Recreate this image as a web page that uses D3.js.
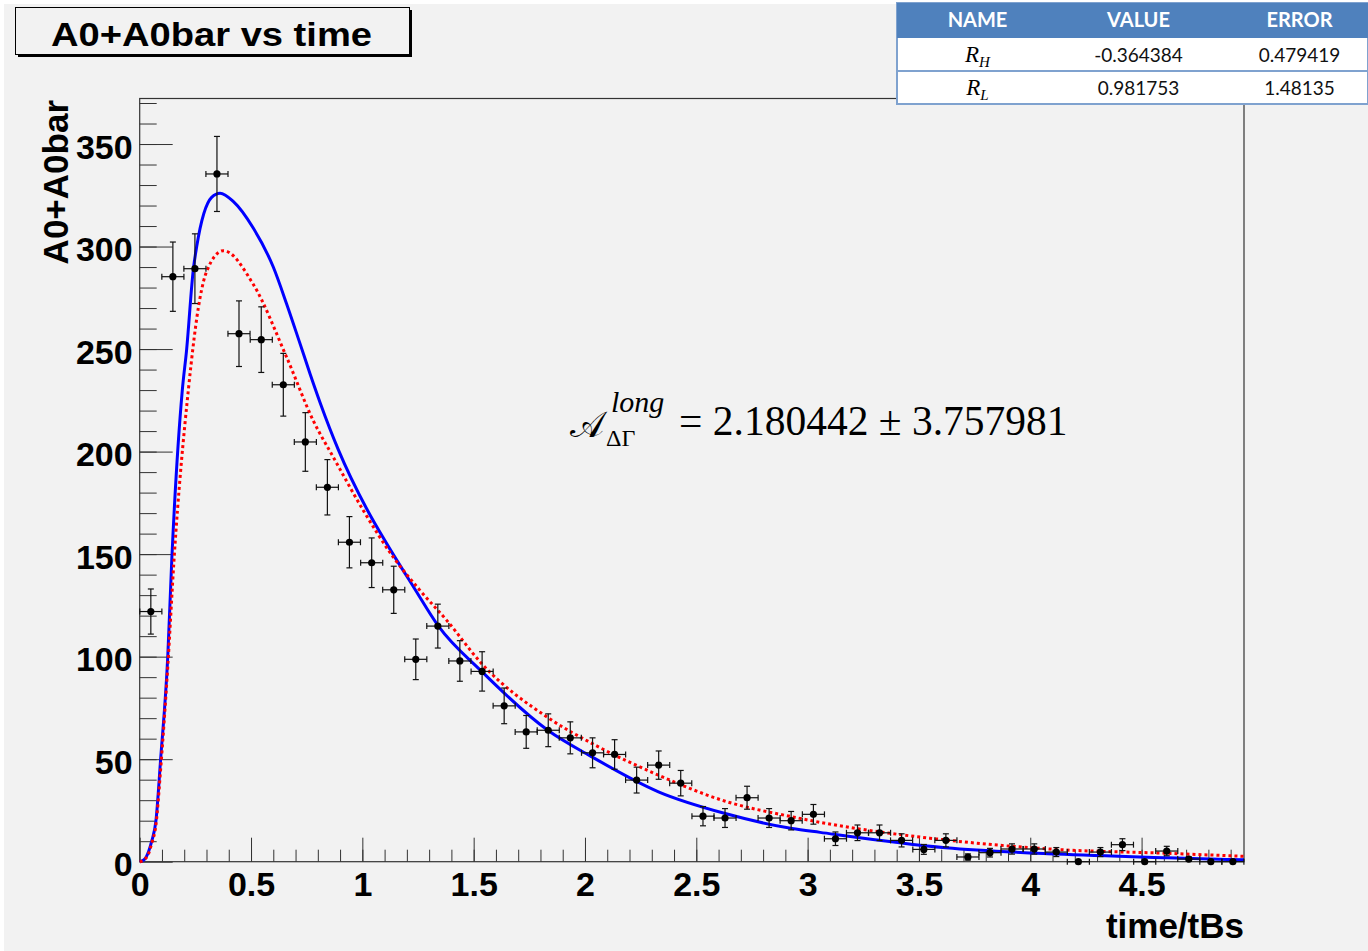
<!DOCTYPE html>
<html>
<head>
<meta charset="utf-8">
<script src="https://cdn.jsdelivr.net/npm/d3@7"></script>
<style>
  body { margin: 0; background: #fff; }
  text { font-family: "Liberation Sans", Arial, sans-serif; }
</style>
</head>
<body>
<svg id="chart" width="1368" height="951"></svg>
<script>
// histogram bins (bin centres, contents, errors)
const times = [0.050, 0.149, 0.248, 0.347, 0.446, 0.546, 0.645, 0.744, 0.843, 0.942,
  1.042, 1.141, 1.240, 1.339, 1.438, 1.538, 1.637, 1.736, 1.835, 1.934,
  2.034, 2.133, 2.232, 2.331, 2.430, 2.530, 2.629, 2.728, 2.827, 2.926,
  3.026, 3.125, 3.224, 3.323, 3.422, 3.522, 3.621, 3.720, 3.819, 3.918,
  4.018, 4.117, 4.216, 4.315, 4.414, 4.514, 4.613, 4.712, 4.811, 4.910];
const counts = [122, 285.3, 289.2, 335.4, 257.5, 254.6, 232.6, 204.7, 182.6, 155.8,
  145.8, 132.6, 98.7, 114.9, 97.9, 92.8, 76.0, 63.3, 64.1, 60.4,
  53.1, 52.3, 39.8, 47.1, 38.3, 22.2, 21.3, 31.2, 21.3, 20.0,
  23.1, 11.2, 14.1, 14.1, 10.4, 6.0, 10.4, 2.3, 4.4, 6.2,
  6.2, 4.7, 0, 4.7, 8.3, 0, 5.2, 1.3, 0, 0];
const errors = [11.0, 16.9, 17.0, 18.3, 16.0, 16.0, 15.3, 14.3, 13.5, 12.5,
  12.1, 11.5, 9.9, 10.7, 9.9, 9.6, 8.7, 8.0, 8.0, 7.8,
  7.3, 7.2, 6.3, 6.9, 6.2, 4.7, 4.6, 5.6, 4.6, 4.5,
  4.8, 3.3, 3.8, 3.8, 3.2, 2.4, 3.2, 1.5, 2.1, 2.5,
  2.5, 2.2, 0, 2.2, 2.9, 0, 2.3, 1.1, 0, 0];
const binHalfWidth = 0.0496;

// fit curves
const blueT = [0, 0.02, 0.04, 0.054, 0.073, 0.094, 0.126, 0.144, 0.191, 0.211, 0.241, 0.256, 0.323, 0.361,
  0.42, 0.51, 0.6, 0.66, 0.716, 0.765, 0.81, 0.892, 1.02, 1.11, 1.23, 1.341, 1.536, 1.833, 2.033, 2.33,
  2.63, 2.93, 3.056, 3.62, 4.116, 4.615, 4.96];
const blueV = [0, 1, 5, 10, 20, 50, 100, 147, 229.5, 250, 289, 300, 324, 326,
  322, 309, 290, 272, 254, 238, 224, 201, 172, 155, 134, 115, 92.8, 64.1, 51, 34.1,
  23.5, 16.2, 14.3, 6.8, 3.7, 1.9, 0.9];
const redT = [0, 0.02, 0.04, 0.054, 0.073, 0.094, 0.126, 0.154, 0.218, 0.271, 0.301, 0.376,
  0.51, 0.66, 0.78, 0.87, 1.005, 1.139, 1.259, 1.379, 1.536, 1.833, 2.033, 2.33, 2.63, 2.93, 3.056,
  3.62, 4.116, 4.615, 4.96];
const redV = [0, 1, 4, 9, 18, 45, 95, 147, 229.5, 275, 288, 298,
  281.6, 246, 215, 197.2, 171.2, 148.5, 132.3, 117.7, 96.6, 70.3, 57.6, 42.2, 29.5, 21.9, 19.2,
  10.6, 6.0, 4.1, 2.6];

const xTickVals = [0, 0.5, 1, 1.5, 2, 2.5, 3, 3.5, 4, 4.5];
const yTickVals = [0, 50, 100, 150, 200, 250, 300, 350];

const tableHead = ['NAME', 'VALUE', 'ERROR'];
const tableNames = [['R', 'H'], ['R', 'L']];
const tableValues = ['-0.364384', '0.981753'];
const tableErrors = ['0.479419', '1.48135'];

const svg = d3.select('#chart');
const W = 1368, H = 951;
const frame = { left: 139.7, right: 1244, top: 98.5, bottom: 861.7 };
const serif = '"Liberation Serif", "DejaVu Serif", serif';
const tableFont = 'Lato, "Open Sans", sans-serif';

svg.append('rect').attr('x', 4).attr('y', 4).attr('width', W - 4).attr('height', H - 4).attr('fill', '#f2f2f2');

const x = d3.scaleLinear().domain([0, 4.96]).range([frame.left, frame.right]);
const y = d3.scaleLinear().domain([0, 372.2]).range([frame.bottom, frame.top]);

// frame
svg.append('rect')
  .attr('x', frame.left).attr('y', frame.top)
  .attr('width', frame.right - frame.left).attr('height', frame.bottom - frame.top)
  .attr('fill', 'none').attr('stroke', '#333').attr('stroke-width', 1.2);

// minor ticks
const xMinor = d3.range(0.1, 4.96, 0.1);
const yMinor = d3.range(10, 372, 10);
svg.append('g')
  .attr('transform', `translate(0, ${frame.bottom})`)
  .call(d3.axisBottom(x).tickValues(xMinor).tickSize(-12).tickFormat(''))
  .call(g => g.select('.domain').remove())
  .selectAll('line').attr('stroke', '#333');
svg.append('g')
  .attr('transform', `translate(${frame.left}, 0)`)
  .call(d3.axisLeft(y).tickValues(yMinor).tickSize(-17).tickFormat(''))
  .call(g => g.select('.domain').remove())
  .selectAll('line').attr('stroke', '#333');

// major ticks + labels
const xAxis = svg.append('g')
  .attr('transform', `translate(0, ${frame.bottom})`)
  .call(d3.axisBottom(x).tickValues(xTickVals).tickSize(-24).tickPadding(10).tickFormat(d3.format('')))
  .call(g => g.select('.domain').remove());
xAxis.selectAll('line').attr('stroke', '#333');
xAxis.selectAll('text')
  .attr('font-size', 34).attr('font-weight', 'bold').attr('fill', '#000');

const yAxis = svg.append('g')
  .attr('transform', `translate(${frame.left}, 0)`)
  .call(d3.axisLeft(y).tickValues(yTickVals).tickSize(-33).tickPadding(7).tickFormat(d3.format('')))
  .call(g => g.select('.domain').remove());
yAxis.selectAll('line').attr('stroke', '#333');
yAxis.selectAll('text')
  .attr('font-size', 34).attr('font-weight', 'bold').attr('fill', '#000')
  .attr('dy', '0.42em');

// axis titles
svg.append('text')
  .attr('x', frame.right).attr('y', 938)
  .attr('text-anchor', 'end')
  .attr('font-size', 35).attr('font-weight', 'bold')
  .text('time/tBs');
svg.append('text')
  .attr('transform', `translate(68, 100) rotate(-90)`)
  .attr('text-anchor', 'end')
  .attr('font-size', 35).attr('font-weight', 'bold')
  .text('A0+A0bar');

// fit curves
const line = d3.line().curve(d3.curveMonotoneX);
svg.append('path')
  .attr('d', line(blueT.map((t, i) => [x(t), y(blueV[i])])))
  .attr('fill', 'none').attr('stroke', '#0000ff').attr('stroke-width', 3);
svg.append('path')
  .attr('d', line(redT.map((t, i) => [x(t), y(redV[i])])))
  .attr('fill', 'none').attr('stroke', '#ff0000').attr('stroke-width', 3)
  .attr('stroke-dasharray', '3 3');

// data points with error bars
const pts = times.map((t, i) => ({ t, v: counts[i], e: errors[i] }));
const eb = svg.append('g').attr('stroke', '#111').attr('stroke-width', 1.2);
pts.forEach(d => {
  const cx = x(d.t), cy = y(d.v);
  const x0 = x(d.t - binHalfWidth), x1 = x(d.t + binHalfWidth);
  eb.append('line').attr('x1', x0).attr('x2', x1).attr('y1', cy).attr('y2', cy);
  eb.append('line').attr('x1', x0).attr('x2', x0).attr('y1', cy - 3).attr('y2', cy + 3);
  eb.append('line').attr('x1', x1).attr('x2', x1).attr('y1', cy - 3).attr('y2', cy + 3);
  if (d.e > 0) {
    const y0 = y(d.v - d.e), y1 = y(d.v + d.e);
    eb.append('line').attr('x1', cx).attr('x2', cx).attr('y1', y0).attr('y2', y1);
    eb.append('line').attr('x1', cx - 3).attr('x2', cx + 3).attr('y1', y0).attr('y2', y0);
    eb.append('line').attr('x1', cx - 3).attr('x2', cx + 3).attr('y1', y1).attr('y2', y1);
  }
});
svg.append('g').selectAll('circle')
  .data(pts).join('circle')
  .attr('cx', d => x(d.t)).attr('cy', d => y(d.v))
  .attr('r', 3.6).attr('fill', '#000');

// title box
svg.append('rect').attr('x', 18).attr('y', 10).attr('width', 394).attr('height', 47).attr('fill', '#000');
svg.append('rect').attr('x', 15.5).attr('y', 7.5).attr('width', 394).attr('height', 47)
  .attr('fill', '#f2f2f2').attr('stroke', '#000').attr('stroke-width', 1);
svg.append('text')
  .attr('x', 51).attr('y', 46)
  .attr('font-size', 33).attr('font-weight', 'bold')
  .attr('textLength', 321).attr('lengthAdjust', 'spacingAndGlyphs')
  .text('A0+A0bar vs time');

// formula
svg.append('text').attr('x', 570).attr('y', 437)
  .style('font-family', '"DejaVu Serif", "DejaVu Sans", serif').attr('font-size', 36)
  .text('\u{1D49C}');
svg.append('text').attr('x', 611).attr('y', 412)
  .style('font-family', serif).attr('font-size', 30).attr('font-style', 'italic')
  .text('long');
svg.append('text').attr('x', 606).attr('y', 446)
  .style('font-family', serif).attr('font-size', 24)
  .text('ΔΓ');
svg.append('text').attr('x', 679).attr('y', 435)
  .style('font-family', serif).attr('font-size', 41.5)
  .text('= 2.180442 ± 3.757981');

// parameter table
const tbl = svg.append('g');
const colX = [897, 1058, 1219, 1380];
const rowY = [3, 38, 71, 104];
tbl.append('rect').attr('x', colX[0]).attr('y', rowY[0]).attr('width', W - colX[0]).attr('height', rowY[3] - rowY[0])
  .attr('fill', '#fff').attr('stroke', '#7fa2cf').attr('stroke-width', 2);
tbl.append('rect').attr('x', colX[0]).attr('y', rowY[0]).attr('width', W - colX[0]).attr('height', rowY[1] - rowY[0])
  .attr('fill', '#4f81bd');
tbl.append('line').attr('x1', colX[0]).attr('x2', W).attr('y1', rowY[2]).attr('y2', rowY[2])
  .attr('stroke', '#7fa2cf').attr('stroke-width', 2);
tableHead.forEach((h, i) => {
  tbl.append('text')
    .attr('x', (colX[i] + colX[i + 1]) / 2).attr('y', 27)
    .attr('text-anchor', 'middle')
    .style('font-family', tableFont).attr('font-weight', 'bold')
    .attr('font-size', 20).attr('fill', '#fff')
    .text(h);
});
tableNames.forEach((n, r) => {
  const cy = (rowY[r + 1] + rowY[r + 2]) / 2 + 7;
  const t = tbl.append('text')
    .attr('x', (colX[0] + colX[1]) / 2).attr('y', cy)
    .attr('text-anchor', 'middle')
    .style('font-family', serif).attr('font-style', 'italic').attr('font-size', 23);
  t.append('tspan').text(n[0]);
  t.append('tspan').attr('font-size', 15).attr('dy', 5).text(n[1]);
  [tableValues[r], tableErrors[r]].forEach((s, c) => {
    tbl.append('text')
      .attr('x', (colX[c + 1] + colX[c + 2]) / 2).attr('y', cy)
      .attr('text-anchor', 'middle')
      .style('font-family', tableFont)
      .attr('font-size', 19).attr('fill', '#111')
      .text(s);
  });
});
</script>
</body>
</html>
